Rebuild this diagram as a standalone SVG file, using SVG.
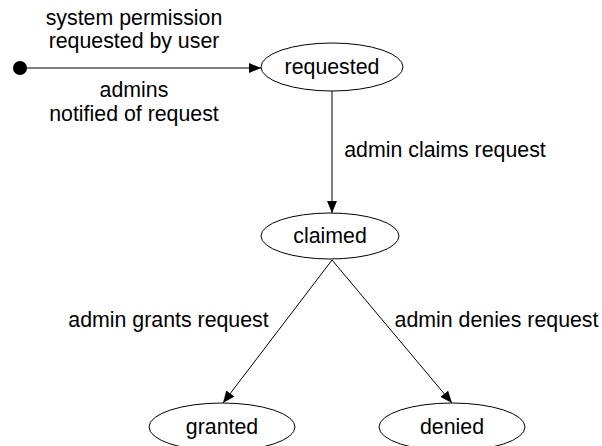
<svg xmlns="http://www.w3.org/2000/svg" width="602" height="446" viewBox="0 0 602 446">
<defs>
<style>
text{font-family:"Liberation Sans",Arial,sans-serif;font-size:21.33px;fill:#000;text-anchor:middle}
.node{fill:#fff;stroke:#000;stroke-width:1}
.edge{stroke:#000;stroke-width:1;fill:none;marker-end:url(#arr)}
</style>
<marker id="arr" viewBox="0 0 12 10" refX="12" refY="5" markerWidth="12" markerHeight="10" markerUnits="userSpaceOnUse" orient="auto">
<path d="M0,0 L12,5 L0,10 Z" fill="#000"/>
</marker>
</defs>
<rect width="602" height="446" fill="#fff"/>
<g id="connectors">
<line class="edge" x1="20" y1="68" x2="261" y2="68"/>
<line class="edge" x1="332" y1="91" x2="332" y2="213"/>
<line class="edge" x1="332" y1="260" x2="223" y2="403"/>
<line class="edge" x1="332" y1="260" x2="452" y2="403"/>
<text x="134" y="25">system permission</text>
<text x="134" y="48">requested by user</text>
<text x="134" y="97">admins</text>
<text x="134" y="121">notified of request</text>
<text x="445" y="157">admin claims request</text>
<text x="168.5" y="327">admin grants request</text>
<text x="496.5" y="327">admin denies request</text>
</g>
<g id="start">
<circle cx="20" cy="68" r="7" fill="#000"/>
</g>
<g id="requested">
<ellipse class="node" cx="332" cy="67" rx="71" ry="24"/>
<text x="332" y="74">requested</text>
</g>
<g id="claimed">
<ellipse class="node" cx="330" cy="236" rx="69" ry="23"/>
<text x="330" y="243">claimed</text>
</g>
<g id="granted">
<ellipse class="node" cx="222" cy="427" rx="73" ry="24"/>
<text x="222" y="434">granted</text>
</g>
<g id="denied">
<ellipse class="node" cx="452" cy="427" rx="73" ry="24"/>
<text x="452" y="434">denied</text>
</g>
</svg>
